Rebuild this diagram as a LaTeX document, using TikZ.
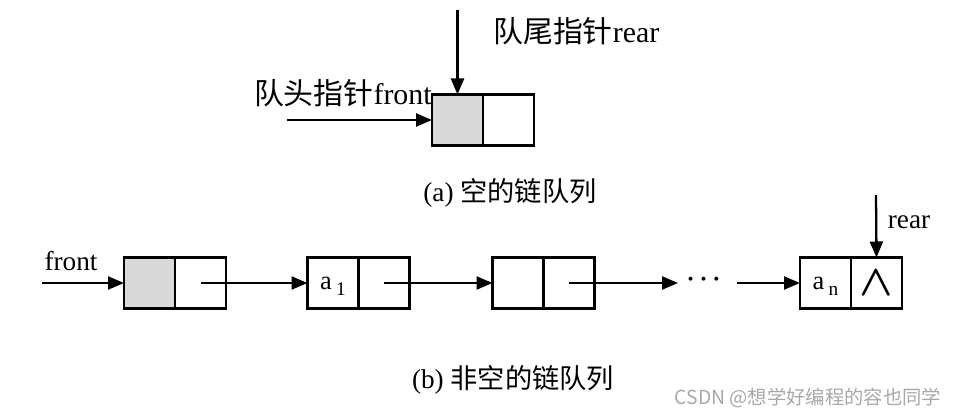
\documentclass[tikz,border=0pt]{standalone}
\usepackage{fontspec}
\setmainfont{Liberation Serif}
\newfontfamily\cjk{Noto Sans CJK SC}
\usepackage{amsmath}
\usepackage{tikz}
\usetikzlibrary{arrows.meta,positioning}
\definecolor{huiDi}{HTML}{D9D9D9}
\definecolor{shuiYin}{HTML}{A8A8A8}
\newcommand{\xiabiao}[1]{\,\smash{\raisebox{-0.5ex}{\fontsize{11}{11}\selectfont #1}}}
\tikzset{
  cell/.style={draw,line width=1.4pt,minimum width=1.02cm,minimum height=1.02cm,
    inner sep=0pt,outer sep=0pt,font=\fontsize{15}{17}\selectfont},
  ptr/.style={-{Triangle[length=0.32cm,width=0.26cm]},line width=1.3pt},
  biaoti/.style={font=\fontsize{17}{20}\selectfont,inner sep=0pt},
  zhushi/.style={font=\fontsize{15.5}{18}\selectfont,inner sep=0pt}
}

\begin{document}
\begin{tikzpicture}
\useasboundingbox (0,0) rectangle (19.16,-8.32);
% (a) empty queue
\node[cell,fill=huiDi] (qd) at (9.15,-2.4) {};
\node[cell,right=0pt of qd] (qn) {};
\coordinate (qf) at (5.74,-2.4);
\coordinate (qr) at (9.15,-0.2);
\draw[ptr] (qf) -- (qd.west);
\draw[ptr] (qr) -- (qd.north);
\node[biaoti,anchor=east] (qfl) at (8.64,-1.86) {{\cjk 队头指针}front};
\node[biaoti,anchor=west] (qrl) at (9.86,-0.62) {{\cjk 队尾指针}rear};
\node[zhushi] (capa) at (10.2,-3.86) {(a) {\cjk 空的链队列}};
% (b) non-empty queue
\node[cell,fill=huiDi] (b1d) at (2.99,-5.66) {};
\node[cell,right=0pt of b1d] (b1n) {};
\node[cell] (b2d) at (6.66,-5.66) {a\xiabiao{1}};
\node[cell,right=0pt of b2d] (b2n) {};
\node[cell] (b3d) at (10.36,-5.66) {};
\node[cell,right=0pt of b3d] (b3n) {};
\node[cell] (b4d) at (16.51,-5.66) {a\xiabiao{n}};
\node[cell,right=0pt of b4d,font=\fontsize{23}{23}\selectfont] (b4n) {$\boldsymbol{\wedge}$};
\coordinate (bf) at (0.84,-5.66);
\coordinate (b3e) at (13.56,-5.66);
\coordinate (b4s) at (14.74,-5.66);
\coordinate (br) at (17.52,-3.9);
\draw[ptr] (bf) -- (b1d.west);
\draw[ptr] (b1n.center) -- (b2d.west);
\draw[ptr] (b2n.center) -- (b3d.west);
\draw[ptr] (b3n.center) -- (b3e);
\node[zhushi] (dots) at (14.12,-5.6) {$\boldsymbol{\cdots}$};
\draw[ptr] (b4s) -- (b4d.west);
\draw[ptr] (br) -- (b4n.north);
\node[zhushi] (bfl) at (1.42,-5.22) {front};
\node[zhushi] (brl) at (18.18,-4.44) {rear};
\node[zhushi] (capb) at (10.26,-7.6) {(b) {\cjk 非空的链队列}};
\node[font=\fontsize{11}{13}\selectfont\cjk,text=shuiYin,inner sep=0pt] (wm) at (16.16,-7.96) {CSDN @想学好编程的容也同学};
\end{tikzpicture}
\end{document}
